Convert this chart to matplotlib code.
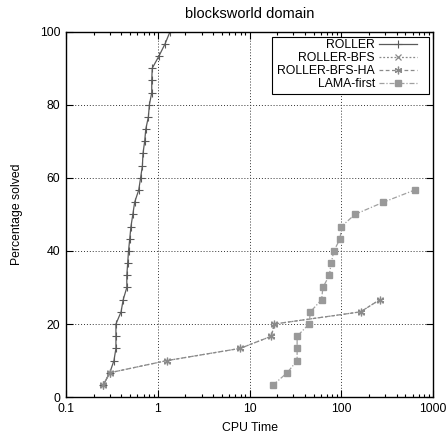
import matplotlib.pyplot as plt
from matplotlib.patches import Rectangle
from matplotlib.ticker import LogLocator, NullFormatter, FixedLocator

plt.rcParams["font.family"] = ["Liberation Sans", "DejaVu Sans"]
plt.rcParams["font.size"] = 8.8

# percentage solved after each instance (30 problems -> 3.33% steps)
roller_time = [0.255, 0.30, 0.333, 0.35, 0.35, 0.35, 0.398, 0.42, 0.46, 0.46,
               0.47, 0.48, 0.495, 0.51, 0.535, 0.56, 0.62, 0.65, 0.68, 0.69,
               0.72, 0.74, 0.79, 0.81, 0.86, 0.86, 0.87, 1.03, 1.2, 1.36]
roller_pct = [100 * (i + 1) / 30 for i in range(len(roller_time))]

bfs_time = [0.255, 0.30, 1.26, 7.9, 17.3, 18.6, 162, 263]
bfs_pct = [100 * (i + 1) / 30 for i in range(len(bfs_time))]

bfs_ha_time = [0.255, 0.30, 1.26, 7.9, 17.3, 18.6, 162, 263]
bfs_ha_pct = [100 * (i + 1) / 30 for i in range(len(bfs_ha_time))]

lama_time = [18.1, 25.7, 33, 33, 33, 44.6, 46, 61, 63, 74, 77.6, 83, 97, 100,
             141, 287, 630]
lama_pct = [100 * (i + 1) / 30 for i in range(len(lama_time))]

fig = plt.figure(figsize=(4.46, 4.34), dpi=100)
ax = fig.add_axes([0.148, 0.085, 0.823, 0.842])

ax.plot(roller_time, roller_pct, color="#5a5a5a", lw=0.9, marker="+", ms=6,
        mew=0.8, label="ROLLER")
ax.plot(bfs_time, bfs_pct, color="#8a8a8a", lw=0.9, ls=(0, (1.5, 1.5)),
        marker="x", ms=4.5, mew=0.9, label="ROLLER-BFS")
ax.plot(bfs_ha_time, bfs_ha_pct, color="#8a8a8a", lw=0.9, ls=(0, (3, 2)),
        marker=(6, 2, 0), ms=5.5, mew=0.9, label="ROLLER-BFS-HA")
ax.plot(lama_time, lama_pct, color="#a0a0a0", lw=0.9, ls=(0, (4, 1.5, 1, 1.5)),
        marker="s", ms=4.5, mec="#999999", mfc="#999999", label="LAMA-first")

ax.set_xscale("log")
ax.set_xlim(0.1, 1000)
ax.set_ylim(0, 100)
ax.xaxis.set_major_locator(LogLocator(base=10, numticks=10))
ax.xaxis.set_minor_locator(LogLocator(base=10, subs=range(2, 10), numticks=10))
ax.xaxis.set_minor_formatter(NullFormatter())
ax.set_xticks([0.1, 1, 10, 100, 1000], ["0.1", "1", "10", "100", "1000"])
ax.yaxis.set_major_locator(FixedLocator([0, 20, 40, 60, 80, 100]))

ax.tick_params(which="both", direction="in", top=True, right=True,
               width=0.8, pad=4)
ax.tick_params(which="major", length=5)
ax.tick_params(which="minor", length=2.5)
for sp in ax.spines.values():
    sp.set_linewidth(1.0)

ax.grid(True, which="major", color="#333333", ls=(0, (1, 2)), lw=0.7)

ax.set_title("blocksworld domain", pad=10)
ax.set_xlabel("CPU Time", labelpad=5)
ax.set_ylabel("Percentage solved", labelpad=12)

# key: frameless legend inside a separately drawn box (gnuplot style)
leg = ax.legend(loc="upper right", bbox_to_anchor=(0.956, 0.979),
                borderaxespad=0, markerfirst=False, numpoints=1,
                handlelength=3.1, handletextpad=0.33, labelspacing=0.08,
                borderpad=0, frameon=False, fontsize=8.8)
leg.set_zorder(6)
key_box = Rectangle((0.562, 0.829), 0.428, 0.156, transform=ax.transAxes,
                    facecolor="white", edgecolor="black", lw=0.8, zorder=5)
ax.add_patch(key_box)

fig.savefig("out.png", dpi=100)
